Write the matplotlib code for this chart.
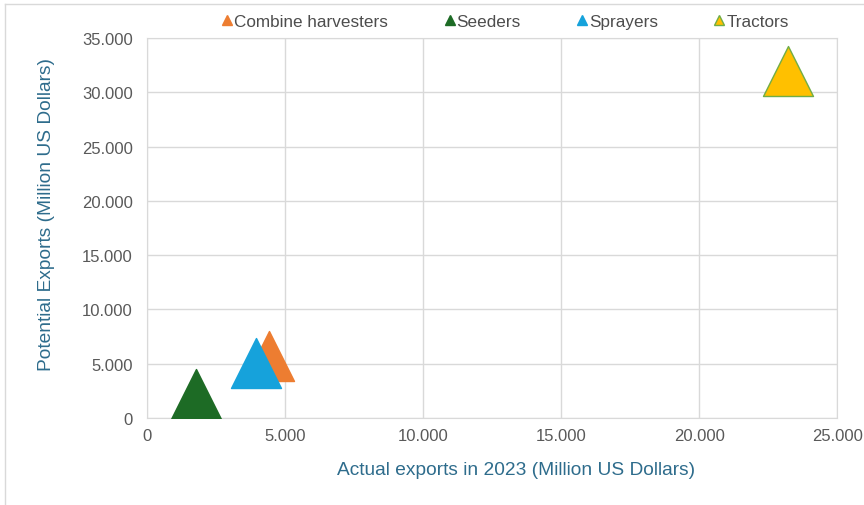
import matplotlib.pyplot as plt
from matplotlib.ticker import FuncFormatter
from matplotlib.lines import Line2D

plt.rcParams['font.family'] = ['Liberation Sans', 'DejaVu Sans']

# data (million US dollars)
machines = ['Combine harvesters', 'Seeders', 'Sprayers', 'Tractors']
actual_2023 = [4420, 1780, 3950, 23200]
potential = [5700, 2200, 5050, 32000]
fill_colors = ['#ED7D31', '#1D6B25', '#16A2DB', '#FFC000']
edge_colors = ['#ED7D31', '#1D6B25', '#16A2DB', '#70AD47']

x_ticks = [0, 5000, 10000, 15000, 20000, 25000]
y_ticks = [0, 5000, 10000, 15000, 20000, 25000, 30000, 35000]

def thousands(v, pos):
    return f'{int(v):,}'.replace(',', '.')

fig = plt.figure(figsize=(8.64, 5.06), dpi=100)
ax = fig.add_axes([0.170, 0.172, 0.799, 0.751])

for name, xv, yv, fc, ec in zip(machines, actual_2023, potential, fill_colors, edge_colors):
    ax.scatter(xv, yv, marker='^', s=36**2, c=fc, edgecolors=ec, linewidths=1.0,
               zorder=3, label=name)

ax.set_xlim(0, 25000)
ax.set_ylim(0, 35000)
ax.set_xticks(x_ticks)
ax.set_yticks(y_ticks)
ax.xaxis.set_major_formatter(FuncFormatter(thousands))
ax.yaxis.set_major_formatter(FuncFormatter(thousands))
ax.tick_params(colors='#595959', labelsize=12, length=0)
ax.tick_params(axis='y', pad=10)
ax.tick_params(axis='x', pad=7)
ax.grid(True, color='#D9D9D9', linewidth=1)
ax.set_axisbelow(True)
for s in ax.spines.values():
    s.set_color('#D9D9D9')

ax.set_xlabel('Actual exports in 2023 (Million US Dollars)', color='#2E6C8C',
              fontsize=13.8)
ax.set_ylabel('Potential Exports (Million US Dollars)', color='#2E6C8C',
              fontsize=13.8)
ax.xaxis.set_label_coords(0.535, -0.113)
ax.yaxis.set_label_coords(-0.133, 0.537)

handles = [Line2D([], [], marker='^', linestyle='none', markersize=7,
                  markerfacecolor=fc, markeredgecolor=ec, label=name)
           for name, fc, ec in zip(machines, fill_colors, edge_colors)]
fig.legend(handles=handles, loc='upper center', bbox_to_anchor=(0.581, 1.0),
           ncol=4, frameon=False, fontsize=12.3, handletextpad=-0.3,
           handlelength=1.4, columnspacing=2.9, labelcolor='#4D4D4D')

# light frame around the chart
fig.add_artist(Line2D([0.006, 0.006], [0, 0.99], color='#D9D9D9', lw=1,
                      transform=fig.transFigure))
fig.add_artist(Line2D([0.006, 1], [0.99, 0.99], color='#D9D9D9', lw=1,
                      transform=fig.transFigure))

fig.savefig('out.png', dpi=100)
